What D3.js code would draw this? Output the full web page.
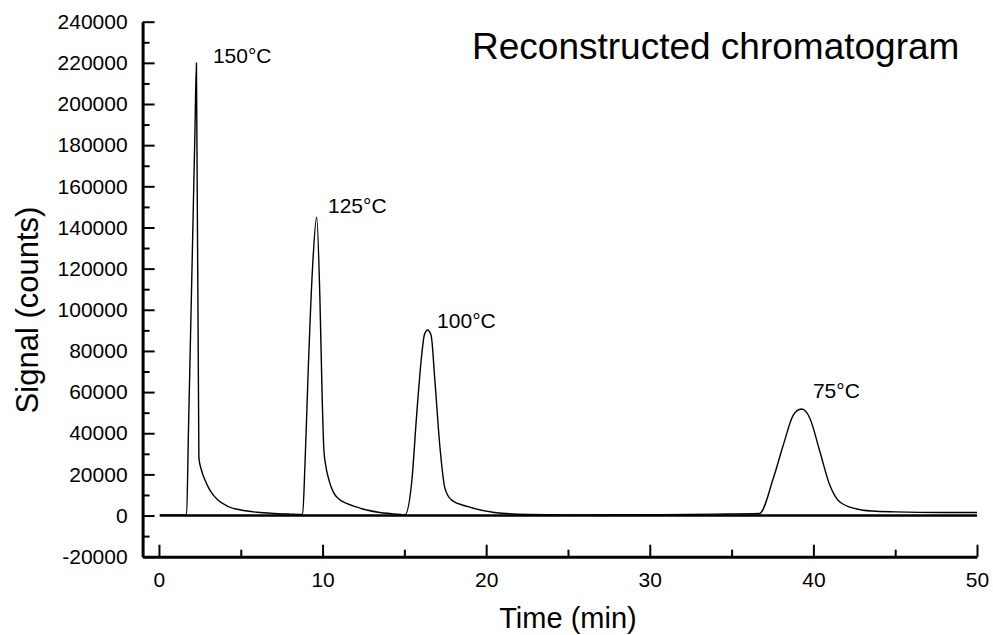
<!DOCTYPE html>
<html>
<head>
<meta charset="utf-8">
<script src="https://cdn.jsdelivr.net/npm/d3@7"></script>
<style>
  body { margin: 0; background: #fff; }
  svg { display: block; font-family: "Liberation Sans", Arial, sans-serif; }
</style>
</head>
<body>
<div id="chart"></div>
<script>
// retention time (min) and detector signal (counts)
const times = [
  0.05, 1.0, 1.69, 1.8, 2.0, 2.2, 2.29, 2.44, 2.6, 2.8, 3.1, 3.6, 4.2, 5.0, 6.0, 7.1, 8.0,
  8.78, 8.92, 9.13, 9.39, 9.64, 9.84, 9.98, 10.08, 10.2, 10.4, 10.65, 11.0, 11.47, 12.0, 12.7, 13.5, 14.1,
  15.04, 15.45, 15.75, 16.06, 16.22, 16.42, 16.63, 16.87, 17.18, 17.48, 17.89, 18.9, 20.5, 22.6, 25, 30, 34,
  36.7, 37.55, 38.16, 38.77, 39.0, 39.28, 39.55, 39.79, 40.4, 41.0, 41.6, 42.65, 43.6, 45, 48, 50
]
const signal = [
  300, 300, 300, 40000, 113000, 187000, 220000, 28000, 22000, 17500, 12500, 7500, 4500, 2700, 1600, 1000, 700,
  500, 23700, 72300, 120900, 145000, 104700, 56100, 32000, 24000, 17000, 11500, 8000, 5900, 4300, 2700, 1500, 1000,
  400, 16400, 48800, 78000, 87700, 90150, 87700, 65000, 32700, 13200, 7500, 4300, 1500, 500, 300, 400, 700,
  1000, 18100, 34300, 48800, 51000, 51800, 50500, 47200, 31000, 14800, 6700, 3200, 2200, 1800, 1500, 1500
]
const baselineTimes = [0.05, 50]

const peakLabels = ["150°C", "125°C", "100°C", "75°C"]
const labelTimes = [3.3, 10.33, 17.0, 39.97]
const labelSignals = [220000, 147000, 91100, 57100]

const xMajorTicks = [0, 10, 20, 30, 40, 50]
const xMinorTicks = [5, 15, 25, 35, 45]
const yMajorTicks = d3.range(-20000, 240001, 20000)
const yMinorTicks = d3.range(-10000, 240000, 20000)

const width = 993
const height = 635

const svg = d3.select("#chart")
  .append("svg")
  .attr("width", width)
  .attr("height", height)

const x = d3.scaleLinear().domain([-1, 50]).range([142.6, 977])
const y = d3.scaleLinear().domain([-20000, 240000]).range([556.7, 21.7])

const plainNumber = (d) => String(d)

// axes, ticks pointing inward
svg.append("g")
  .attr("transform", `translate(0, ${y(-20000)})`)
  .call(d3.axisBottom(x).tickValues(xMajorTicks).tickSize(-12).tickSizeOuter(0).tickPadding(15).tickFormat(plainNumber))
svg.append("g")
  .attr("transform", `translate(0, ${y(-20000)})`)
  .call(d3.axisBottom(x).tickValues(xMinorTicks).tickSize(-7).tickSizeOuter(0).tickFormat(""))
  .call((g) => g.select(".domain").remove())

svg.append("g")
  .attr("transform", `translate(${x(-1)}, 0)`)
  .call(d3.axisLeft(y).tickValues(yMajorTicks).tickSize(-12).tickSizeOuter(0).tickPadding(15).tickFormat(plainNumber))
svg.append("g")
  .attr("transform", `translate(${x(-1)}, 0)`)
  .call(d3.axisLeft(y).tickValues(yMinorTicks).tickSize(-7).tickSizeOuter(0).tickFormat(""))
  .call((g) => g.select(".domain").remove())

svg.selectAll(".domain").attr("stroke", "#000").attr("stroke-width", 3)
svg.selectAll(".tick line").attr("stroke", "#000").attr("stroke-width", 2)
svg.selectAll(".tick text")
  .attr("fill", "#000")
  .style("font-size", "21px")
  .style("font-family", "'Liberation Sans', Arial, sans-serif")

// zero baseline
const lineGenerator = d3.line()
  .x((d) => x(d[0]))
  .y((d) => y(d[1]))

svg.append("path")
  .datum(baselineTimes.map((t) => [t, 0]))
  .attr("fill", "none")
  .attr("stroke", "#000")
  .attr("stroke-width", 2.5)
  .attr("d", lineGenerator)

svg.append("path")
  .datum(times.map((t, i) => [t, signal[i]]))
  .attr("fill", "none")
  .attr("stroke", "#000")
  .attr("stroke-width", 1.4)
  .attr("stroke-linejoin", "round")
  .attr("d", lineGenerator.curve(d3.curveMonotoneX))

svg.selectAll(".peak-label")
  .data(peakLabels)
  .join("text")
  .attr("class", "peak-label")
  .attr("x", (d, i) => x(labelTimes[i]))
  .attr("y", (d, i) => y(labelSignals[i]))
  .attr("font-size", 21)
  .text((d) => d)

svg.append("text")
  .attr("x", 472)
  .attr("y", 59)
  .attr("font-size", 37)
  .text("Reconstructed chromatogram")

svg.append("text")
  .attr("x", x(25))
  .attr("y", 628)
  .attr("text-anchor", "middle")
  .attr("font-size", 29)
  .text("Time (min)")

svg.append("text")
  .attr("transform", `translate(38, 310) rotate(-90)`)
  .attr("text-anchor", "middle")
  .attr("font-size", 31)
  .text("Signal (counts)")
</script>
</body>
</html>
